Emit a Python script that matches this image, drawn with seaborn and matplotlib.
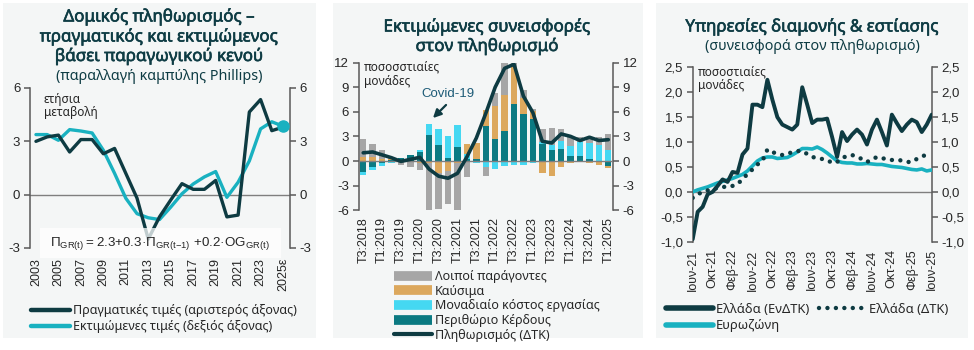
import matplotlib
matplotlib.use("Agg")
import matplotlib.pyplot as plt
import matplotlib.patheffects as pe
import seaborn as sns
import numpy as np
import pandas as pd
from matplotlib.lines import Line2D
from matplotlib.patches import Rectangle

# ---------------- Panel 1 data ----------------
p1_years = list(range(2003, 2026))
p1_ticks = [2003, 2005, 2007, 2009, 2011, 2013, 2015, 2017, 2019, 2021, 2023, 2025]
p1_ticklabels = ['2003', '2005', '2007', '2009', '2011', '2013', '2015', '2017',
                 '2019', '2021', '2023', '2025ε']
p1_actual = [3.0, 3.25, 3.35, 2.4, 3.1, 3.1, 2.3, 2.6, 1.2, -0.2, -2.5, -1.25,
             -0.3, 0.62, 0.3, 0.3, 0.8, -1.25, -1.15, 4.65, 5.35, 3.6, 3.8]
p1_estimated = [3.38, 3.38, 3.06, 3.66, 3.58, 3.47, 2.5, 1.2, -0.2, -1.07, -1.3, -1.4,
                -0.7, 0.05, 0.6, 1.0, 1.3, -0.15, 0.7, 1.9, 3.7, 4.1, 3.85]

# ---------------- Panel 2 data ----------------
p2_quarters = ['T3:2018', 'T4:2018', 'T1:2019', 'T2:2019', 'T3:2019', 'T4:2019',
               'T1:2020', 'T2:2020', 'T3:2020', 'T4:2020', 'T1:2021', 'T2:2021',
               'T3:2021', 'T4:2021', 'T1:2022', 'T2:2022', 'T3:2022', 'T4:2022',
               'T1:2023', 'T2:2023', 'T3:2023', 'T4:2023', 'T1:2024', 'T2:2024',
               'T3:2024', 'T4:2024', 'T1:2025']
p2_profit = [-1.4, -0.7, -0.3, 0.1, 0.35, 0.7, 1.1, 3.2, 1.9, 0.4, 1.7, 0.2, 0.3, 4.3,
             2.7, 3.7, 6.9, 5.7, 5.1, 2.05, 1.3, 1.5, 0.55, 0.55, 0.3, 0.05, -0.6]
p2_ulc = [-0.3, -0.4, -0.3, -0.3, 0.05, 0.05, 0.3, 1.3, 2.0, 2.65, 2.65, 0.7, -0.2, -0.7,
          -1.0, -0.6, -0.5, -0.5, -0.2, 0.3, 0.65, 0.9, 1.3, 1.8, 1.85, 1.85, 1.35]
p2_fuel = [0.5, 0.5, 0.3, 0.1, -0.1, -0.1, -0.2, -0.3, -1.5, -1.2, -0.3, 1.2, 1.9, 1.9,
           4.0, 4.4, 4.6, 2.0, 1.0, -1.5, -1.8, -0.7, -0.3, -0.15, -0.2, -0.5, -0.2]
p2_other = [2.2, 1.6, 1.0, 0.2, -0.35, -0.6, -0.9, -5.7, -4.4, -4.05, -5.7, -1.9, 0.0, -1.1,
            1.6, 3.8, 0.5, 1.0, 0.2, 1.6, 2.05, 1.5, 1.1, 0.6, 0.7, 1.0, 1.95]
p2_infl = [1.0, 1.1, 0.75, 0.4, -0.05, 0.2, 0.45, -1.0, -1.85, -2.1, -1.5, 0.5, 2.8, 5.8,
           9.0, 11.3, 11.8, 7.9, 5.9, 2.4, 2.2, 3.3, 3.0, 2.5, 2.9, 2.5, 2.6]

# ---------------- Panel 3 data (monthly, Jun-21 .. Jun-25) ----------------
p3_ticklabels = ['Ιουν-21', 'Οκτ-21', 'Φεβ-22', 'Ιουν-22', 'Οκτ-22', 'Φεβ-23', 'Ιουν-23',
                 'Οκτ-23', 'Φεβ-24', 'Ιουν-24', 'Οκτ-24', 'Φεβ-25', 'Ιουν-25']
p3_gr_hicp = [-0.95, -0.4, -0.3, -0.05, 0.0, 0.12, 0.25, 0.2, 0.4, 0.38, 0.75, 0.87, 1.75,
              1.75, 1.7, 2.25, 1.85, 1.5, 1.35, 1.3, 1.25, 1.35, 2.1, 1.75, 1.38, 1.45,
              1.45, 1.47, 1.1, 0.7, 1.2, 1.02, 1.15, 1.25, 1.15, 0.95, 1.25, 1.45, 1.2,
              0.93, 1.55, 1.38, 1.22, 1.35, 1.45, 1.4, 1.2, 1.35, 1.55]
p3_gr_cpi = [-0.12, -0.05, 0.0, 0.03, 0.05, 0.08, 0.1, 0.1, 0.12, 0.16, 0.25, 0.36, 0.45,
             0.55, 0.62, 0.85, 0.8, 0.76, 0.74, 0.76, 0.8, 0.82, 0.82, 0.76, 0.7, 0.68,
             0.66, 0.64, 0.58, 0.6, 0.68, 0.72, 0.74, 0.7, 0.66, 0.6, 0.65, 0.7, 0.68,
             0.65, 0.64, 0.64, 0.63, 0.6, 0.6, 0.66, 0.7, 0.76, 0.78]
p3_ea = [0.0, 0.04, 0.07, 0.1, 0.14, 0.18, 0.21, 0.24, 0.27, 0.31, 0.35, 0.42, 0.52, 0.62,
         0.68, 0.7, 0.7, 0.67, 0.68, 0.69, 0.74, 0.8, 0.87, 0.87, 0.86, 0.9, 0.85, 0.78,
         0.7, 0.62, 0.59, 0.58, 0.58, 0.56, 0.56, 0.57, 0.56, 0.55, 0.55, 0.53, 0.51,
         0.5, 0.49, 0.47, 0.45, 0.44, 0.46, 0.42, 0.44]

# ---------------- style ----------------
W, H = 974, 350
DARK = '#0e3b42'
TEAL = '#19b1c0'
C_GRAY = '#a6a6a6'
C_ORANGE = '#dca85d'
C_CYAN = '#45d8f2'
C_PROFIT = '#0b7a82'
SPINE = '#595959'
TXT = '#262626'
TITLE_C = '#0e3c44'
BG = '#f4f6f6'

sns.set_theme(style='white')
plt.rcParams['font.family'] = ['Liberation Sans', 'DejaVu Sans']
plt.rcParams['axes.unicode_minus'] = False
plt.rcParams['mathtext.fontset'] = 'custom'
plt.rcParams['mathtext.rm'] = 'Liberation Sans'
TF = ['Noto Sans', 'DejaVu Sans']
TITLE_PE = [pe.withStroke(linewidth=0.45, foreground=TITLE_C)]


def fx(x):
    return x / W


def fy(y):
    return 1 - y / H


def rect(l, t, r, b):
    return [l / W, 1 - b / H, (r - l) / W, (b - t) / H]


fig = plt.figure(figsize=(W / 100, H / 100), dpi=100)
fig.patch.set_facecolor('white')

for (l, t, r, b) in [(3, 3, 316, 338), (333, 3, 643, 338), (656, 3, 968, 338)]:
    fig.add_artist(Rectangle((fx(l), fy(b)), (r - l) / W, (b - t) / H,
                             transform=fig.transFigure, facecolor=BG,
                             edgecolor='none', zorder=-5))


def style_axes(ax, xpad):
    ax.set_facecolor('none')
    for s in ['top', 'bottom']:
        ax.spines[s].set_visible(False)
    for s in ['left', 'right']:
        ax.spines[s].set_visible(True)
        ax.spines[s].set_color(SPINE)
        ax.spines[s].set_linewidth(1.1)
    ax.tick_params(axis='y', which='both', left=True, right=True, labelleft=True,
                   labelright=True, direction='out', length=4, width=1.1,
                   color=SPINE, labelsize=9.5, labelcolor=TXT, pad=3)
    ax.tick_params(axis='x', length=0, labelsize=9, labelcolor=TXT, pad=xpad)
    ax.grid(False)


def title(x, y, s, fs, stroke=True):
    fig.text(fx(x), fy(y), s, fontsize=fs, color=TITLE_C, family=TF, ha='center',
             va='center', path_effects=TITLE_PE if stroke else None)


# ================= Panel 1 =================
ax1 = fig.add_axes(rect(30, 88, 290, 248))
ax1.axhline(0, color='#7f7f7f', lw=1.0, zorder=1)
sns.lineplot(x=p1_years, y=p1_estimated, ax=ax1, color=TEAL, lw=2.4, zorder=3)
sns.lineplot(x=p1_years, y=p1_actual, ax=ax1, color=DARK, lw=2.4, zorder=4)
ax1.plot([p1_years[-1]], [p1_estimated[-1]], 'o', color=TEAL, ms=8, zorder=5)
ax1.set_ylim(-3, 6)
ax1.set_xlim(2002.47, 2025.62)
ax1.set_yticks([-3, 0, 3, 6])
ax1.set_xticks(p1_ticks)
ax1.set_xticklabels(p1_ticklabels, rotation=90, va='top')
style_axes(ax1, 7)
ax1.set_xlabel('')
ax1.set_ylabel('')

fig.text(fx(44), fy(99), 'ετήσια', fontsize=8.5, color=TXT, family=TF, va='center')
fig.text(fx(44), fy(112.5), 'μεταβολή', fontsize=8.5, color=TXT, family=TF, va='center')

fig.add_artist(Rectangle((fx(40), fy(258)), 241 / W, 30 / H, transform=fig.transFigure,
                         facecolor='white', alpha=0.75, edgecolor='none', zorder=3))
fig.text(fx(160), fy(243),
         r'$\mathregular{Π_{GR(t)}{=}2.3{+}0.3{·}Π_{GR(t{-}1)}\ {+}0.2{·}OG_{GR(t)}}$',
         fontsize=9.6, color=TXT, ha='center', va='center', zorder=4)

title(159, 17, 'Δομικός πληθωρισμός –', 12.2)
title(159, 37, 'πραγματικός και εκτιμώμενος', 12.2)
title(159, 56.5, 'βάσει παραγωγικού κενού', 12.2)
title(159, 76.5, '(παραλλαγή καμπύλης Phillips)', 10.3, stroke=False)

h1 = [Line2D([], [], color=DARK, lw=3.2), Line2D([], [], color=TEAL, lw=3.2)]
fig.legend(h1, ['Πραγματικές τιμές (αριστερός άξονας)', 'Εκτιμώμενες τιμές (δεξιός άξονας)'],
           loc='upper left', bbox_to_anchor=(fx(31), fy(304)), frameon=False,
           prop={'family': TF, 'size': 9}, handlelength=3.1, handletextpad=0.25,
           labelspacing=0.25, borderpad=0, borderaxespad=0, labelcolor=TXT)

# ================= Panel 2 =================
ax2 = fig.add_axes(rect(358.5, 62.6, 613, 210.2))
x2 = np.arange(len(p2_quarters))
pos = np.zeros(len(x2))
neg = np.zeros(len(x2))
for vals, col in [(p2_profit, C_PROFIT), (p2_ulc, C_CYAN), (p2_fuel, C_ORANGE), (p2_other, C_GRAY)]:
    v = np.array(vals, dtype=float)
    bottom = np.where(v >= 0, pos, neg)
    ax2.bar(x2, v, bottom=bottom, width=0.68, color=col, linewidth=0, zorder=2)
    pos += np.where(v >= 0, v, 0)
    neg += np.where(v < 0, v, 0)
ax2.axhline(0, color='#7f7f7f', lw=1.0, zorder=3)
sns.lineplot(x=x2, y=p2_infl, ax=ax2, color=DARK, lw=2.6, zorder=5)
ax2.set_ylim(-6, 12)
ax2.set_xlim(-0.5, len(x2) - 0.5)
ax2.set_yticks([-6, -3, 0, 3, 6, 9, 12])
ax2.set_xticks(x2[::2])
ax2.set_xticklabels(p2_quarters[::2], rotation=90, va='top')
style_axes(ax2, 5)
ax2.set_xlabel('')
ax2.set_ylabel('')

fig.text(fx(364), fy(67), 'ποσοσστιαίες', fontsize=8.5, color=TXT, family=TF, va='center')
fig.text(fx(364), fy(81), 'μονάδες', fontsize=8.5, color=TXT, family=TF, va='center')
fig.text(fx(448), fy(94), 'Covid-19', fontsize=9.5, color='#1d5b77', ha='center', va='center')
ax2.annotate('', xy=(fx(431), fy(120)), xytext=(fx(448), fy(103)),
             xycoords='figure fraction', textcoords='figure fraction',
             arrowprops=dict(arrowstyle='-|>', color=DARK, lw=1.6, mutation_scale=12))

title(487, 27, 'Εκτιμώμενες συνεισφορές', 12.2)
title(487, 46.5, 'στον πληθωρισμό', 12.2)

h2 = [Line2D([], [], color=C_GRAY, lw=7, solid_capstyle='butt'),
      Line2D([], [], color=C_ORANGE, lw=7, solid_capstyle='butt'),
      Line2D([], [], color=C_CYAN, lw=7, solid_capstyle='butt'),
      Line2D([], [], color=C_PROFIT, lw=7, solid_capstyle='butt'),
      Line2D([], [], color=DARK, lw=3, solid_capstyle='round')]
fig.legend(h2, ['Λοιποί παράγοντες', 'Καύσιμα', 'Μοναδιαίο κόστος εργασίας',
                'Περιθώριο Κέρδους', 'Πληθωρισμός (ΔΤΚ)'],
           loc='upper left', bbox_to_anchor=(fx(394), fy(270)), frameon=False,
           prop={'family': TF, 'size': 9}, handlelength=3.0, handletextpad=0.3,
           labelspacing=0.13, borderpad=0, borderaxespad=0, labelcolor=TXT)

# ================= Panel 3 =================
ax3 = fig.add_axes(rect(692.7, 67.3, 931.7, 241.7))
x3 = np.arange(len(p3_ea))
ax3.axhline(0, color='#7f7f7f', lw=1.0, zorder=1)
sns.lineplot(x=x3, y=p3_ea, ax=ax3, color=TEAL, lw=2.6, zorder=3)
sns.lineplot(x=x3, y=p3_gr_hicp, ax=ax3, color=DARK, lw=2.8, zorder=4)
sns.lineplot(x=x3, y=p3_gr_cpi, ax=ax3, color=DARK, lw=3.2, zorder=5)
dl = ax3.lines[-1]
dl.set_linestyle((0, (0.001, 1.9)))
dl.set_dash_capstyle('round')
ax3.set_ylim(-1.0, 2.5)
ax3.set_xlim(0, len(x3) - 1)
yt3 = [-1.0, -0.5, 0.0, 0.5, 1.0, 1.5, 2.0, 2.5]
ax3.set_yticks(yt3)
ax3.set_yticklabels([f'{v:.1f}'.replace('.', ',') for v in yt3])
ax3.set_xticks(x3[::4])
ax3.set_xticklabels(p3_ticklabels, rotation=90, va='top')
style_axes(ax3, 5.5)
ax3.set_xlabel('')
ax3.set_ylabel('')

fig.text(fx(698), fy(72.5), 'ποσοστιαίες', fontsize=8.5, color=TXT, family=TF, va='center')
fig.text(fx(698), fy(86), 'μονάδες', fontsize=8.5, color=TXT, family=TF, va='center')

title(812, 27, 'Υπηρεσίες διαμονής & εστίασης', 12.2)
title(812, 47, '(συνεισφορά στον πληθωρισμό)', 10.3, stroke=False)

h3 = [Line2D([], [], color=DARK, lw=4, solid_capstyle='round'),
      Line2D([], [], color=DARK, lw=3.2, linestyle=(0, (0.001, 1.9)), dash_capstyle='round'),
      Line2D([], [], color=TEAL, lw=4, solid_capstyle='round')]
fig.legend([h3[0], h3[2], h3[1]], ['Ελλάδα (ΕνΔΤΚ)', 'Ευρωζώνη', 'Ελλάδα (ΔΤΚ)'],
           loc='upper left', bbox_to_anchor=(fx(666), fy(303)), frameon=False, ncol=2,
           prop={'family': TF, 'size': 9.3}, handlelength=3.6, handletextpad=0.25,
           labelspacing=0.25, columnspacing=0.8, borderpad=0, borderaxespad=0,
           labelcolor=TXT)

fig.savefig('out.png', dpi=100)
